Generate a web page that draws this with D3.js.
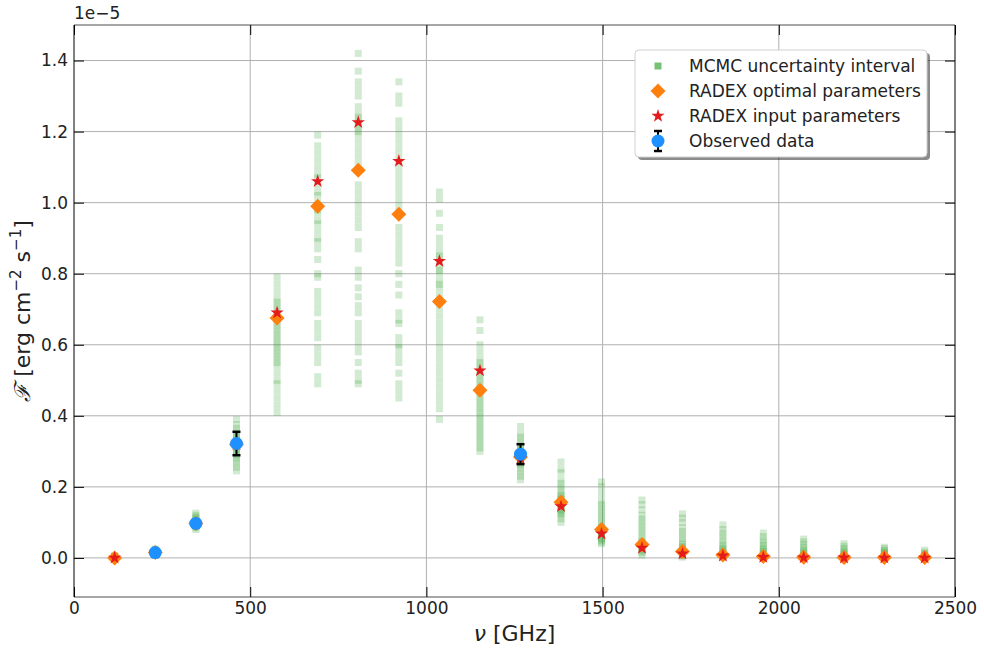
<!DOCTYPE html>
<html><head><meta charset="utf-8">
<script src="https://cdn.jsdelivr.net/npm/d3@7"></script>
<style>body{margin:0;background:#fff}svg{display:block;font-family:"DejaVu Sans",sans-serif}</style>
</head><body><svg id="c" width="984" height="648"></svg>
<script>
// Frequencies of the transitions (GHz)
const freqs = [115.27,230.54,345.80,461.04,576.27,691.47,806.65,921.80,1036.91,1151.99,1267.01,1381.99,1496.92,1611.79,1726.60,1841.35,1956.02,2070.62,2185.13,2299.57,2413.92];
// RADEX optimal parameters (x1e-5 erg cm^-2 s^-1)
const optimal = [0.0,0.015,0.097,0.32,0.675,0.99,1.091,0.967,0.722,0.472,0.284,0.157,0.08,0.038,0.018,0.008,0.004,0.002,0.001,0.001,0.001];
// RADEX input parameters
const inputP = [0.0,0.015,0.097,0.32,0.69,1.06,1.226,1.117,0.835,0.527,0.28,0.145,0.068,0.028,0.012,0.006,0.002,0.001,0.0005,0.0003,0.0002];
// Observed data
const obsFreq = [230.54,345.80,461.04,1267.01];
const obsVal  = [0.015,0.097,0.322,0.292];
const obsErr  = [0.005,0.01,0.033,0.028];
// MCMC samples per transition
const mcmc = [
 [0.0,0.001,0.002,0.003,0.004,0.005,0.006],
 [0.008,0.011,0.013,0.015,0.017,0.019,0.022,0.025],
 [0.080,0.085,0.09,0.093,0.096,0.099,0.102,0.106,0.11,0.115,0.12,0.126],
 [0.245,0.255,0.265,0.275,0.283,0.29,0.297,0.303,0.31,0.316,0.322,0.328,0.334,0.34,0.347,0.355,0.365,0.375,0.39],
 [0.41,0.43,0.45,0.47,0.49,0.5,0.52,0.54,0.55,0.56,0.57,0.58,0.59,0.6,0.61,0.62,0.63,0.64,0.65,0.66,0.67,0.68,0.69,0.70,0.71,0.72,0.73,0.75,0.77,0.79],
 [0.49,0.51,0.55,0.57,0.59,0.62,0.64,0.66,0.69,0.71,0.73,0.75,0.79,0.80,0.84,0.87,0.89,0.9,0.92,0.94,0.95,0.97,0.98,1.0,1.02,1.03,1.05,1.07,1.08,1.10,1.12,1.14,1.16,1.19],
 [0.49,0.50,0.52,0.55,0.58,0.60,0.62,0.64,0.66,0.69,0.71,0.735,0.76,0.79,0.81,0.87,0.89,0.93,0.95,0.97,0.99,1.01,1.03,1.05,1.11,1.13,1.15,1.17,1.19,1.2,1.21,1.22,1.23,1.24,1.25,1.27,1.30,1.32,1.34,1.37,1.42],
 [0.45,0.47,0.49,0.52,0.55,0.57,0.59,0.60,0.62,0.66,0.67,0.69,0.74,0.77,0.80,0.83,0.85,0.87,0.89,0.91,0.93,0.97,0.99,1.01,1.03,1.05,1.07,1.09,1.11,1.13,1.15,1.17,1.19,1.21,1.23,1.28,1.30,1.34],
 [0.39,0.42,0.44,0.46,0.48,0.50,0.52,0.54,0.56,0.58,0.60,0.62,0.64,0.66,0.68,0.70,0.72,0.74,0.76,0.77,0.78,0.80,0.81,0.82,0.84,0.85,0.86,0.88,0.90,0.93,0.97,1.01,1.03],
 [0.30,0.31,0.32,0.33,0.34,0.35,0.36,0.37,0.38,0.39,0.40,0.41,0.42,0.43,0.44,0.45,0.46,0.47,0.48,0.49,0.50,0.51,0.52,0.53,0.54,0.55,0.56,0.58,0.60,0.64,0.67],
 [0.22,0.23,0.24,0.25,0.26,0.265,0.27,0.275,0.28,0.285,0.29,0.295,0.30,0.305,0.31,0.32,0.33,0.34,0.35,0.37],
 [0.10,0.11,0.12,0.125,0.13,0.135,0.14,0.145,0.15,0.155,0.16,0.165,0.17,0.175,0.18,0.19,0.2,0.21,0.22,0.24,0.25,0.27],
 [0.04,0.045,0.05,0.055,0.06,0.065,0.07,0.075,0.08,0.085,0.09,0.1,0.11,0.12,0.13,0.14,0.15,0.16,0.18,0.2,0.214],
 [0.008,0.015,0.02,0.025,0.03,0.035,0.04,0.045,0.05,0.06,0.07,0.08,0.09,0.1,0.11,0.12,0.135,0.15,0.163],
 [0.002,0.006,0.01,0.014,0.018,0.022,0.027,0.032,0.038,0.045,0.055,0.065,0.075,0.085,0.1,0.112,0.124],
 [0.001,0.004,0.007,0.01,0.014,0.018,0.023,0.028,0.034,0.04,0.05,0.06,0.07,0.08,0.093],
 [0.0,0.003,0.006,0.01,0.014,0.018,0.023,0.028,0.035,0.042,0.05,0.06,0.07],
 [0.0,0.003,0.006,0.01,0.014,0.018,0.023,0.03,0.037,0.045,0.053],
 [0.0,0.002,0.005,0.008,0.012,0.016,0.02,0.026,0.033,0.04],
 [0.0,0.002,0.005,0.008,0.012,0.016,0.021,0.026,0.03],
 [0.0,0.002,0.005,0.008,0.012,0.016,0.022]
];
const xTicks = [0,500,1000,1500,2000,2500];
const yTicks = [0.0,0.2,0.4,0.6,0.8,1.0,1.2,1.4];
const legendLabels = ["MCMC uncertainty interval","RADEX optimal parameters","RADEX input parameters","Observed data"];

const L=74,R=955,T=25,B=597;
const svg=d3.select("#c");
const x=d3.scaleLinear().domain([0,2500]).range([L,R]);
const y=d3.scaleLinear().domain([-0.11,1.5]).range([B,T]);
const FS=17;

// grid
const g=svg.append("g");
g.selectAll(".gx").data(xTicks.slice(1,-1)).join("line").attr("x1",d=>x(d)).attr("x2",d=>x(d)).attr("y1",T).attr("y2",B).attr("stroke","#b0b0b0").attr("stroke-width",1);
g.selectAll(".gy").data(yTicks).join("line").attr("x1",L).attr("x2",R).attr("y1",d=>y(d)).attr("y2",d=>y(d)).attr("stroke","#b0b0b0").attr("stroke-width",1);

// clip
svg.append("clipPath").attr("id","clip").append("rect").attr("x",L).attr("y",T).attr("width",R-L).attr("height",B-T);
const p=svg.append("g").attr("clip-path","url(#clip)");

// MCMC squares
const sq=7;
const green="#2ca02c";
const flat=[];
mcmc.forEach((arr,i)=>arr.forEach(v=>flat.push([freqs[i],v])));
p.selectAll(".m").data(flat).join("rect").attr("x",d=>x(d[0])-sq/2).attr("y",d=>y(d[1])-sq/2).attr("width",sq).attr("height",sq).attr("fill",green).attr("fill-opacity",0.22);

// diamonds
const dia="M0,-7.5L7.5,0L0,7.5L-7.5,0Z";
p.selectAll(".d").data(freqs.map((f,i)=>[f,optimal[i]])).join("path").attr("d",dia).attr("transform",d=>`translate(${x(d[0])},${y(d[1])})`).attr("fill","#ff7f0e");

// stars
const star=d3.symbol().type(d3.symbolStar).size(55)();
p.selectAll(".s").data(freqs.map((f,i)=>[f,inputP[i]])).join("path").attr("d",star).attr("transform",d=>`translate(${x(d[0])},${y(d[1])})`).attr("fill","#e41a1c");

// observed error bars
const obs=obsFreq.map((f,i)=>({f,v:obsVal[i],e:obsErr[i]}));
const eb=p.selectAll(".e").data(obs).join("g");
eb.append("line").attr("x1",d=>x(d.f)).attr("x2",d=>x(d.f)).attr("y1",d=>y(d.v-d.e)).attr("y2",d=>y(d.v+d.e)).attr("stroke","#000").attr("stroke-width",2);
eb.append("line").attr("x1",d=>x(d.f)-4).attr("x2",d=>x(d.f)+4).attr("y1",d=>y(d.v-d.e)).attr("y2",d=>y(d.v-d.e)).attr("stroke","#000").attr("stroke-width",2.5);
eb.append("line").attr("x1",d=>x(d.f)-4).attr("x2",d=>x(d.f)+4).attr("y1",d=>y(d.v+d.e)).attr("y2",d=>y(d.v+d.e)).attr("stroke","#000").attr("stroke-width",2.5);
p.selectAll(".o").data(obs).join("circle").attr("cx",d=>x(d.f)).attr("cy",d=>y(d.v)).attr("r",6.5).attr("fill","#1e90ff");

// spines
svg.append("line").attr("x1",L).attr("x2",R).attr("y1",T).attr("y2",T).attr("stroke","#888").attr("stroke-width",1.5);
svg.append("line").attr("x1",L).attr("x2",R).attr("y1",B).attr("y2",B).attr("stroke","#888").attr("stroke-width",1.5);
svg.append("line").attr("x1",L).attr("x2",L).attr("y1",T).attr("y2",B).attr("stroke","#000").attr("stroke-width",1);
svg.append("line").attr("x1",R).attr("x2",R).attr("y1",T).attr("y2",B).attr("stroke","#000").attr("stroke-width",1);

// axes with inward ticks
const ax=d3.axisBottom(x).tickValues(xTicks).tickFormat(d3.format("d")).tickSizeInner(-10).tickSizeOuter(0).tickPadding(5);
const gxA=svg.append("g").attr("transform",`translate(0,${B})`).call(ax);
gxA.select(".domain").remove();
gxA.selectAll("text").attr("font-size",FS).attr("fill","#222").attr("font-family","DejaVu Sans");
gxA.selectAll("line").attr("stroke","#000");
const axT=d3.axisTop(x).tickValues(xTicks).tickSizeInner(-10).tickSizeOuter(0).tickFormat("");
const gxT=svg.append("g").attr("transform",`translate(0,${T})`).call(axT);
gxT.select(".domain").remove();
const ay=d3.axisLeft(y).tickValues(yTicks).tickFormat(d3.format(".1f")).tickSizeInner(-10).tickSizeOuter(0).tickPadding(6);
const gyA=svg.append("g").attr("transform",`translate(${L},0)`).call(ay);
gyA.select(".domain").remove();
gyA.selectAll("text").attr("font-size",FS).attr("fill","#222").attr("font-family","DejaVu Sans");
const ayR=d3.axisRight(y).tickValues(yTicks).tickSizeInner(-10).tickSizeOuter(0).tickFormat("");
const gyR=svg.append("g").attr("transform",`translate(${R},0)`).call(ayR);
gyR.select(".domain").remove();

// offset text
svg.append("text").attr("x",L).attr("y",19).attr("font-size",FS).attr("fill","#222").text("1e\u22125");

// axis labels
svg.append("text").attr("x",(L+R)/2).attr("y",641).attr("text-anchor","middle").attr("font-size",22).attr("fill","#222")
 .html('<tspan font-style="italic">\u03bd</tspan> [GHz]');
const yl=svg.append("text").attr("transform",`translate(30,${(T+B)/2}) rotate(-90)`).attr("text-anchor","middle").attr("font-size",22).attr("fill","#222");
yl.append("tspan").attr("font-family","DejaVu Serif").attr("font-style","italic").text("\u2131");
yl.append("tspan").text(" [erg cm");
yl.append("tspan").attr("font-size",15).attr("dy",-9).text("\u22122");
yl.append("tspan").attr("dy",9).text(" s");
yl.append("tspan").attr("font-size",15).attr("dy",-9).text("\u22121");
yl.append("tspan").attr("dy",9).text("]");

// legend
const lx=635,ly=50,lw=292,lh=107;
svg.append("rect").attr("x",lx+3).attr("y",ly+3).attr("width",lw).attr("height",lh).attr("rx",4).attr("fill","#000").attr("fill-opacity",0.45);
svg.append("rect").attr("x",lx).attr("y",ly).attr("width",lw).attr("height",lh).attr("rx",4).attr("fill","#fff").attr("stroke","#d0d0d0");
const lg=svg.append("g");
legendLabels.forEach((t,i)=>{
  const yy=ly+16+i*25, mx=lx+23;
  if(i===0) lg.append("rect").attr("x",mx-3.5).attr("y",yy-3.5).attr("width",7).attr("height",7).attr("fill",green).attr("fill-opacity",0.65);
  if(i===1) lg.append("path").attr("d",dia).attr("transform",`translate(${mx},${yy})`).attr("fill","#ff7f0e");
  if(i===2) lg.append("path").attr("d",star).attr("transform",`translate(${mx},${yy})`).attr("fill","#e41a1c");
  if(i===3){
    lg.append("line").attr("x1",mx).attr("x2",mx).attr("y1",yy-10).attr("y2",yy+10).attr("stroke","#000").attr("stroke-width",2);
    lg.append("line").attr("x1",mx-4).attr("x2",mx+4).attr("y1",yy-10).attr("y2",yy-10).attr("stroke","#000").attr("stroke-width",2.5);
    lg.append("line").attr("x1",mx-4).attr("x2",mx+4).attr("y1",yy+10).attr("y2",yy+10).attr("stroke","#000").attr("stroke-width",2.5);
    lg.append("circle").attr("cx",mx).attr("cy",yy).attr("r",6.5).attr("fill","#1e90ff");
  }
  lg.append("text").attr("x",lx+54).attr("y",yy+6).attr("font-size",FS).attr("fill","#222").text(t);
});
</script></body></html>
